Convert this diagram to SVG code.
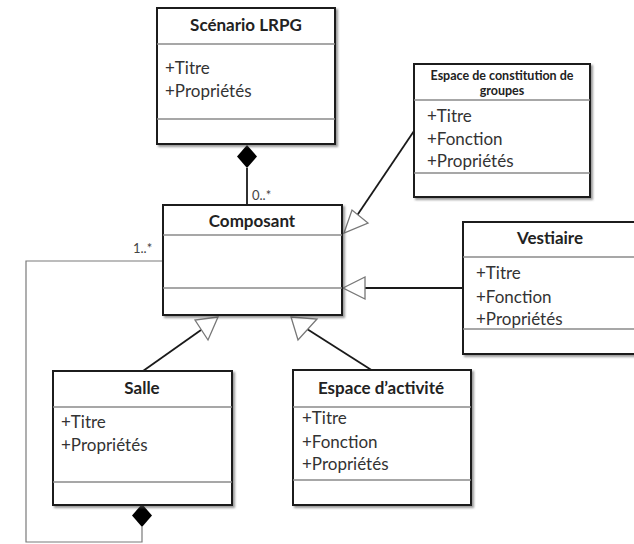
<svg xmlns="http://www.w3.org/2000/svg" width="634" height="544" viewBox="0 0 634 544">
  <defs>
    <filter id="shadow" x="-10%" y="-10%" width="130%" height="130%">
      <feDropShadow dx="2" dy="2" stdDeviation="1.2" flood-color="#555" flood-opacity="0.6"/>
    </filter>
    <style>
      .box { fill: #fff; stroke: #1a1a1a; stroke-width: 2; filter: url(#shadow); }
      .sep { stroke: #8a8a8a; stroke-width: 1.5; }
      .title { font-family: Lato, "Open Sans", sans-serif; font-weight: bold; font-size: 17px; fill: #222; text-anchor: middle; }
      .small-title { font-family: Lato, "Open Sans", sans-serif; font-weight: bold; font-size: 12.5px; fill: #222; text-anchor: middle; }
      .attr { font-family: Lato, "Open Sans", sans-serif; font-size: 17px; fill: #333; }
      .mult { font-family: Lato, "Open Sans", sans-serif; font-size: 13px; fill: #444; }
      .link { stroke: #1a1a1a; stroke-width: 1.8; fill: none; }
      .loop { stroke: #7a7a7a; stroke-width: 1.2; fill: none; }
      .gen { fill: #fff; stroke: #777; stroke-width: 1.3; }
      .comp { fill: #000; stroke: none; }
    </style>
  </defs>

  <!-- connectors -->
  <g id="connectors">
    <!-- composition Scénario LRPG -> Composant -->
    <line class="link" x1="247" y1="168" x2="247" y2="205"/>
    <polygon class="comp" points="247,145 257,156.5 247,168 237,156.5"/>
    <text class="mult" x="252" y="200">0..*</text>

    <!-- generalisation Espace de constitution -> Composant -->
    <line class="link" x1="414" y1="131" x2="356" y2="217"/>
    <polygon class="gen" points="344,233 352,210 368,223"/>

    <!-- generalisation Vestiaire -> Composant -->
    <line class="link" x1="463" y1="288" x2="365" y2="288"/>
    <polygon class="gen" points="343,288 365,277 365,299"/>

    <!-- generalisation Salle -> Composant -->
    <line class="link" x1="143" y1="371" x2="201" y2="330"/>
    <polygon class="gen" points="218,317 195,320 208,340"/>

    <!-- generalisation Espace d'activité -> Composant -->
    <line class="link" x1="373" y1="371" x2="307" y2="329"/>
    <polygon class="gen" points="291,317 317,319 298,340"/>

    <!-- composition Salle -> Composant (loop) -->
    <polyline class="loop" points="142,527 142,542 26,542 26,261 163,261"/>
    <polygon class="comp" points="142,504 152,515.5 142,527 132,515.5"/>
    <text class="mult" x="133" y="253">1..*</text>
  </g>

  <!-- Scénario LRPG -->
  <g id="scenario">
    <rect class="box" x="157" y="8" width="178" height="136"/>
    <line class="sep" x1="157" y1="44" x2="335" y2="44"/>
    <line class="sep" x1="157" y1="119" x2="335" y2="119"/>
    <text class="title" x="246" y="31">Scénario LRPG</text>
    <text class="attr" x="165" y="74">+Titre</text>
    <text class="attr" x="165" y="97">+Propriétés</text>
  </g>

  <!-- Espace de constitution de groupes -->
  <g id="espace-constitution">
    <rect class="box" x="414" y="64" width="176" height="133"/>
    <line class="sep" x1="414" y1="100" x2="590" y2="100"/>
    <line class="sep" x1="414" y1="173" x2="590" y2="173"/>
    <text class="small-title" x="502" y="80">Espace de constitution de</text>
    <text class="small-title" x="502" y="95">groupes</text>
    <text class="attr" x="427" y="122">+Titre</text>
    <text class="attr" x="427" y="145">+Fonction</text>
    <text class="attr" x="427" y="167">+Propriétés</text>
  </g>

  <!-- Composant -->
  <g id="composant">
    <rect class="box" x="163" y="205" width="179" height="110"/>
    <line class="sep" x1="163" y1="235" x2="342" y2="235"/>
    <line class="sep" x1="163" y1="288" x2="342" y2="288"/>
    <text class="title" x="252" y="227">Composant</text>
  </g>

  <!-- Vestiaire -->
  <g id="vestiaire">
    <rect class="box" x="463" y="222" width="180" height="132"/>
    <line class="sep" x1="463" y1="257" x2="643" y2="257"/>
    <line class="sep" x1="463" y1="329" x2="643" y2="329"/>
    <text class="title" x="550" y="244">Vestiaire</text>
    <text class="attr" x="476" y="279">+Titre</text>
    <text class="attr" x="476" y="303">+Fonction</text>
    <text class="attr" x="476" y="325">+Propriétés</text>
  </g>

  <!-- Salle -->
  <g id="salle">
    <rect class="box" x="53" y="371" width="179" height="134"/>
    <line class="sep" x1="53" y1="407" x2="232" y2="407"/>
    <line class="sep" x1="53" y1="482" x2="232" y2="482"/>
    <text class="title" x="142" y="394">Salle</text>
    <text class="attr" x="61" y="428">+Titre</text>
    <text class="attr" x="61" y="451">+Propriétés</text>
  </g>

  <!-- Espace d'activité -->
  <g id="espace-activite">
    <rect class="box" x="293" y="370" width="178" height="135"/>
    <line class="sep" x1="293" y1="407" x2="471" y2="407"/>
    <line class="sep" x1="293" y1="480" x2="471" y2="480"/>
    <text class="title" x="381" y="394">Espace d’activité</text>
    <text class="attr" x="302" y="424">+Titre</text>
    <text class="attr" x="302" y="448">+Fonction</text>
    <text class="attr" x="302" y="470">+Propriétés</text>
  </g>
</svg>
